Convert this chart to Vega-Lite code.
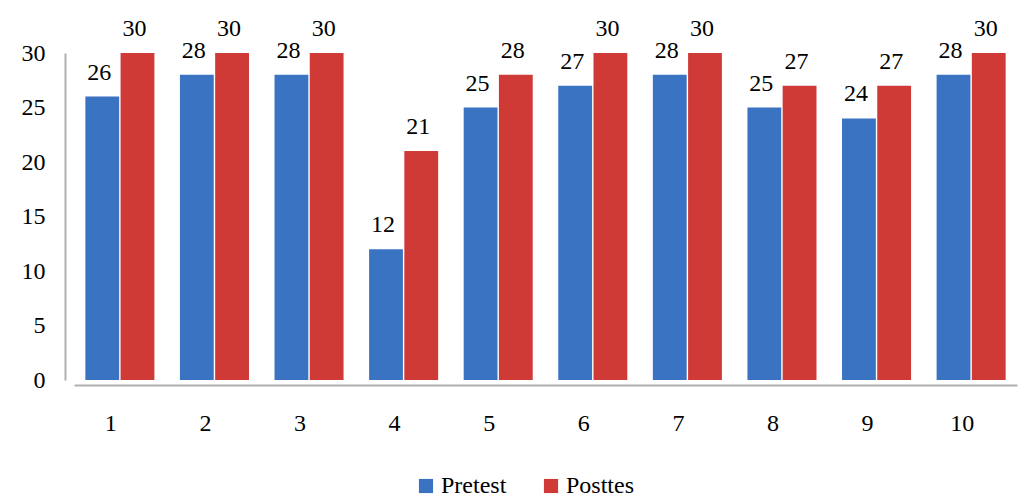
{
  "$schema": "https://vega.github.io/schema/vega-lite/v6.json",
  "autosize": "none",
  "width": 943,
  "height": 327,
  "padding": {"left": 74, "top": 53, "right": 11, "bottom": 118},
  "background": "white",
  "data": {"values": [
    {"item": "1", "series": "Pretest", "score": 26}, {"item": "1", "series": "Posttes", "score": 30},
    {"item": "2", "series": "Pretest", "score": 28}, {"item": "2", "series": "Posttes", "score": 30},
    {"item": "3", "series": "Pretest", "score": 28}, {"item": "3", "series": "Posttes", "score": 30},
    {"item": "4", "series": "Pretest", "score": 12}, {"item": "4", "series": "Posttes", "score": 21},
    {"item": "5", "series": "Pretest", "score": 25}, {"item": "5", "series": "Posttes", "score": 28},
    {"item": "6", "series": "Pretest", "score": 27}, {"item": "6", "series": "Posttes", "score": 30},
    {"item": "7", "series": "Pretest", "score": 28}, {"item": "7", "series": "Posttes", "score": 30},
    {"item": "8", "series": "Pretest", "score": 25}, {"item": "8", "series": "Posttes", "score": 27},
    {"item": "9", "series": "Pretest", "score": 24}, {"item": "9", "series": "Posttes", "score": 27},
    {"item": "10", "series": "Pretest", "score": 28}, {"item": "10", "series": "Posttes", "score": 30}
  ]},
  "config": {"view": {"stroke": null}, "font": "Liberation Serif"},
  "encoding": {
    "x": {"field": "item", "type": "nominal", "sort": null,
      "scale": {"paddingInner": 0.27, "paddingOuter": 0.12},
      "axis": {"title": null, "labelAngle": 0, "ticks": false, "domainColor": "#b0b0b0", "domainWidth": 2, "offset": 5,
        "labelFont": "Liberation Serif", "labelFontSize": 24, "labelColor": "#000", "labelPadding": 26, "labelOffset": -9}},
    "xOffset": {"field": "series", "type": "nominal", "sort": ["Pretest", "Posttes"], "scale": {"paddingInner": 0.04}},
    "y": {"field": "score", "type": "quantitative", "scale": {"domain": [0, 30], "nice": false},
      "axis": {"title": null, "values": [0, 5, 10, 15, 20, 25, 30], "grid": false, "ticks": false, "domainColor": "#b0b0b0", "domainWidth": 2, "offset": 9,
        "labelFont": "Liberation Serif", "labelFontSize": 24, "labelColor": "#000", "labelPadding": 20}},
    "color": {"field": "series", "type": "nominal", "sort": ["Pretest", "Posttes"],
      "scale": {"domain": ["Pretest", "Posttes"], "range": ["#3a73c2", "#cf3a37"]},
      "legend": {"title": null, "orient": "none", "direction": "horizontal", "legendX": 340, "legendY": 421,
        "symbolType": "square", "symbolSize": 200, "symbolStrokeWidth": 0, "labelFont": "Liberation Serif", "labelFontSize": 24,
        "labelColor": "#000", "columnPadding": 32, "labelOffset": 3}}
  },
  "layer": [
    {"mark": {"type": "bar", "stroke": null}},
    {"mark": {"type": "text", "baseline": "bottom", "dy": -12, "dx": -3, "font": "Liberation Serif", "fontSize": 24, "color": "#000"},
      "encoding": {"text": {"field": "score", "type": "quantitative"}, "color": {"value": "#000"}}}
  ]
}
